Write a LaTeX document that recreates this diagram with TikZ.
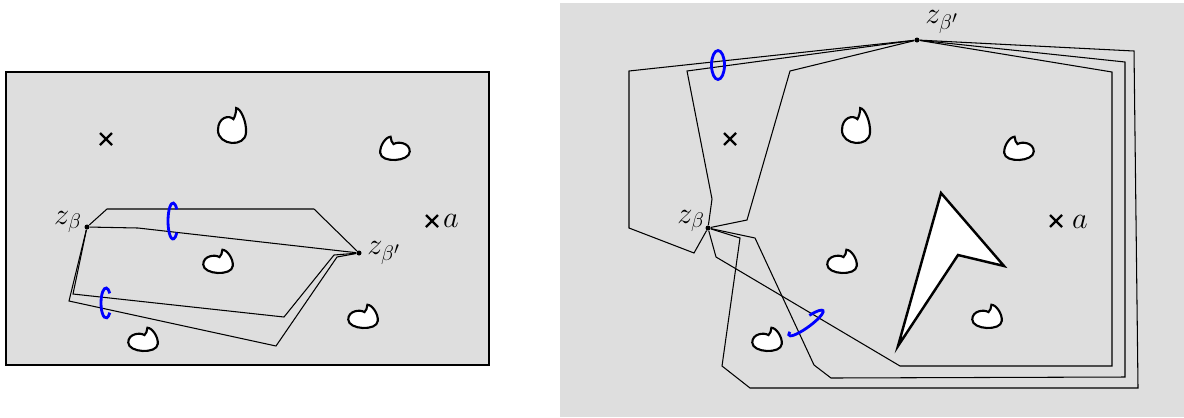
\documentclass[tikz,border=0pt]{standalone}
\usepackage{tikz}

\definecolor{panelgray}{RGB}{222,222,222}

\tikzset{
  obstacle/.style={draw=black, fill=white, line width=1.2pt},
  blob/.pic={
    \draw[obstacle, x=2.95mm, y=2.95mm] (0.1,0.4) .. controls (-0.2,0.6) and (-1,0.5) .. (-1,-0.1)
      .. controls (-1,-0.8) and (0.95,-0.9) .. (1,-0.2)
      .. controls (1.05,0.3) and (0.6,0.9) .. (0.3,0.9)
      .. controls (0.3,0.7) and (0.2,0.5) .. (0.1,0.4) -- cycle;
  },
  pathline/.style={line width=0.6pt},
  puncture/.style={line width=1.3pt},
  lasso/.style={blue, line width=1.6pt},
  endpt/.style={circle, fill=black, inner sep=0pt, minimum size=1mm},
  lbl/.style={font=\LARGE},
}

% punctures and obstacles shared by both panels
\newcommand{\scenery}{%
  \draw[puncture] (106,139) ++(-6,-6) -- ++(12,12) ++(-12,0) -- ++(12,-12);
  \draw[puncture] (432,221) ++(-6,-6) -- ++(12,12) ++(-12,0) -- ++(12,-12);
  \pic[xscale=0.95, yscale=1.5] at (232,128) {blob};
  \pic[xscale=-1] at (395,150) {blob};
  \pic at (218,263) {blob};
  \pic at (363,318) {blob};
  \pic at (143,341) {blob};
}

\begin{document}
\begin{tikzpicture}[x=0.2mm, y=-0.2mm]
        \useasboundingbox (0,0) rectangle (1184,417);

        %left panel
        \filldraw[fill=panelgray, line width=1.2pt] (6,72) rectangle (489,365);
        \scenery

        \node[endpt] (zb) at (87,227) {};
        \node[endpt] (zbp) at (359,253) {};
        \node[lbl] (zblbl) at (68,222) {$z_\beta$};
        \node[lbl] (zbplbl) at (384,253) {$z_{\beta'}$};
        \node[lbl] (albl) at (451,221) {$a$};

        \draw[pathline] (zb) -- (107,209) -- (314,209) -- (zbp);
        \draw[pathline] (zb) -- (138,228) -- (zbp);
        \draw[pathline] (zb) -- (73,294) -- (284,317) -- (334,255) -- (zbp);
        \draw[pathline] (zb) -- (69,301) -- (276,346) -- (337,257) -- (zbp);

        \draw[lasso] (173,221) ++(40:1mm and 3.6mm) arc[start angle=40, end angle=320, x radius=1mm, y radius=3.6mm];
        \draw[lasso] (106,303) ++(40:1mm and 3mm) arc[start angle=40, end angle=320, x radius=1mm, y radius=3mm];

        %right panel
        \fill[panelgray] (560,3) rectangle (1184,417);
        \begin{scope}[shift={(624,0)}, name prefix=r-]
            \scenery
        \end{scope}
        \draw[obstacle, line width=1.4pt] (941,193) -- (1004,266) -- (958,255) -- (898,346) -- cycle;

        \node[endpt] (rzb) at (708,228) {};
        \node[endpt] (rzbp) at (917,40) {};
        \node[lbl] (rzblbl) at (691,221) {$z_\beta$};
        \node[lbl] (rzbplbl) at (942,22) {$z_{\beta'}$};
        \node[lbl] (ralbl) at (1080,222) {$a$};

            %left of the puncture
        \draw[pathline] (rzbp) -- (629,71) -- (629,228) -- (694,253) -- (rzb);
        \draw[pathline] (rzbp) -- (687,71) -- (712,199) -- (rzb);
        \draw[pathline] (rzbp) -- (790,71) -- (747,220) -- (rzb);

            %round the obstacle
        \draw[pathline] (rzb) -- (716,257) -- (900,366) -- (1112,366) -- (1112,72) -- (rzbp);
        \draw[pathline] (rzb) -- (755,238) -- (814,365) -- (831,378) -- (1125,377) -- (1125,62) -- (rzbp);
        \draw[pathline] (rzb) -- (740,238) -- (722,366) -- (750,388) -- (1138,388) -- (1134,51) -- (rzbp);

        \draw[lasso] (718,65) ellipse[x radius=1.3mm, y radius=2.9mm];
        \draw[lasso, rotate around={36:(806,323)}] (806,323) ++(150:4.2mm and 0.9mm) arc[start angle=150, end angle=430, x radius=4.2mm, y radius=0.9mm];

\end{tikzpicture}
\end{document}
